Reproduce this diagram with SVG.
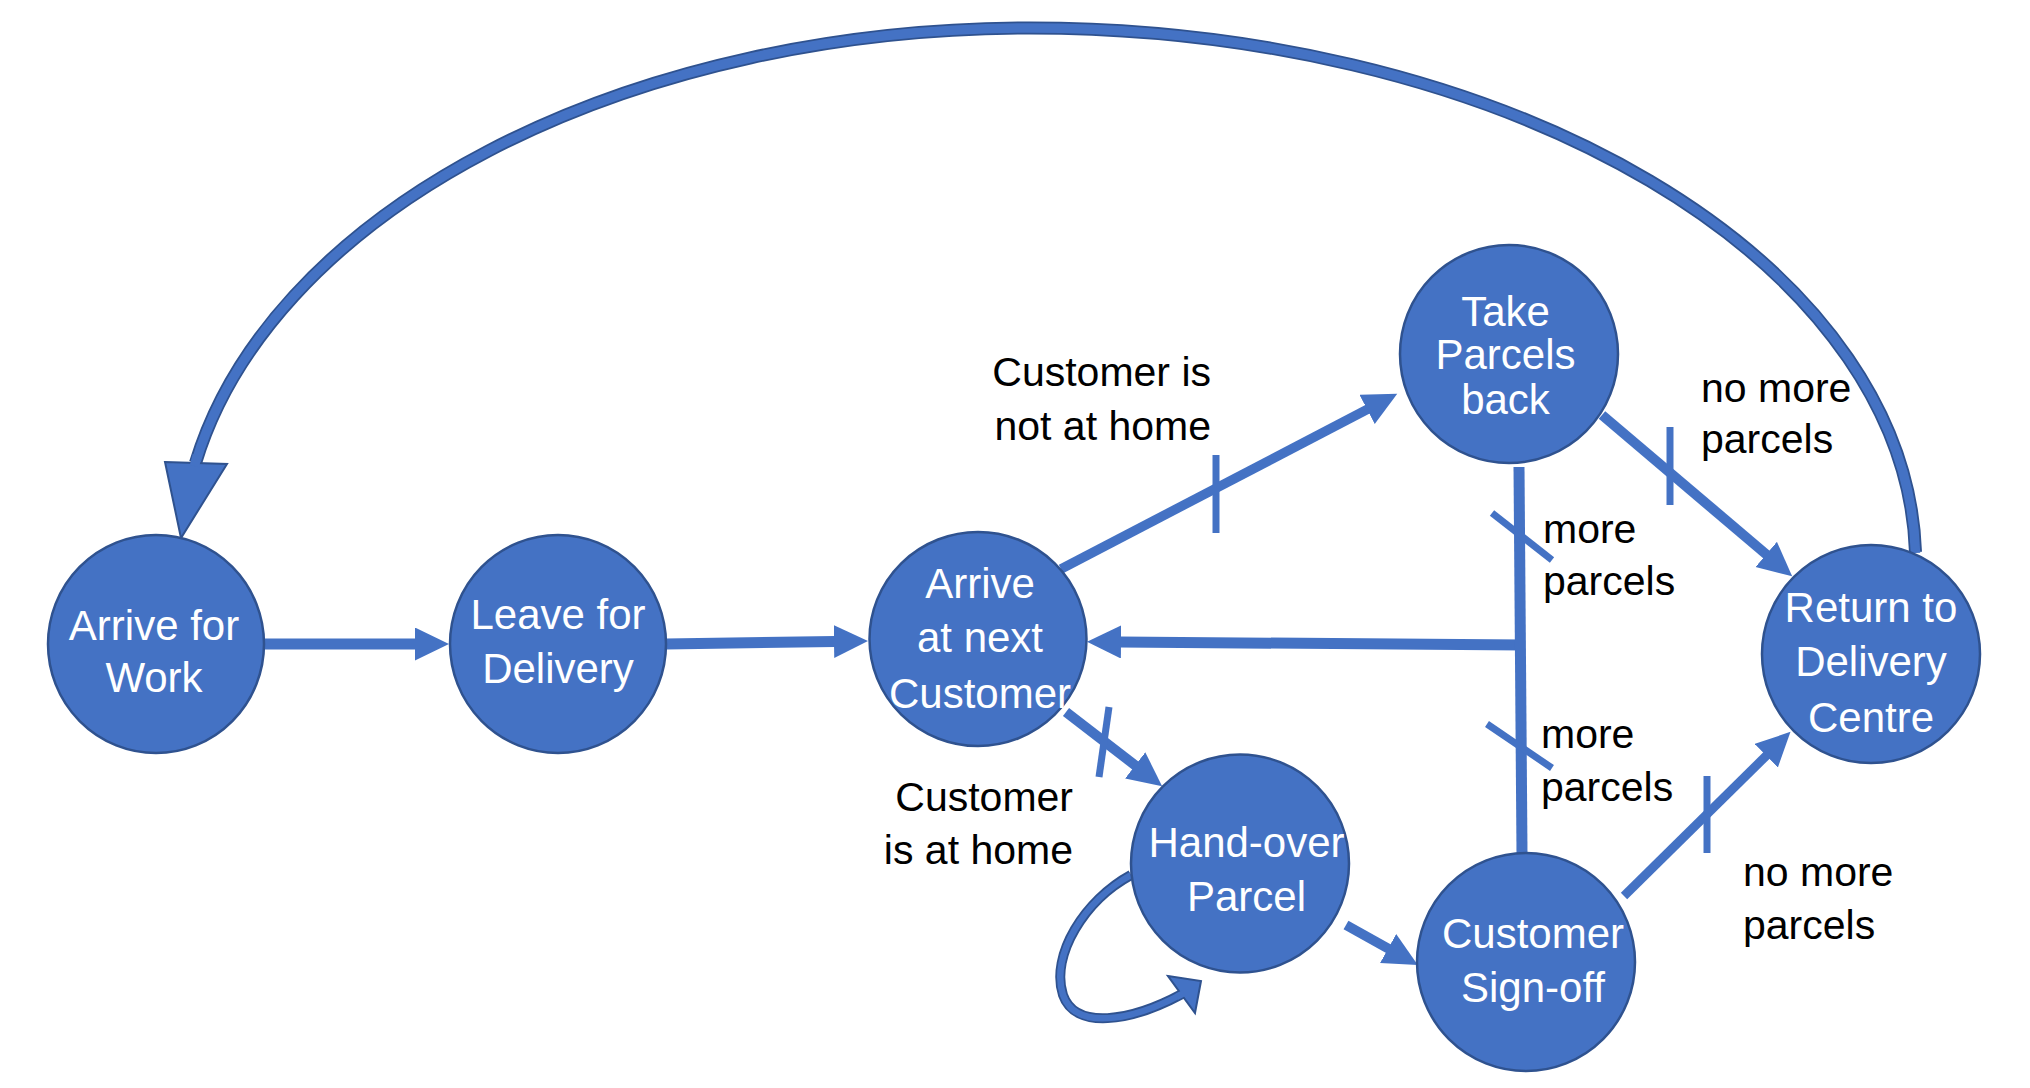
<svg xmlns="http://www.w3.org/2000/svg" width="2030" height="1088" viewBox="0 0 2030 1088">
<style>
.node{fill:#4472C4;stroke:#2F528F;stroke-width:2.5}
.nt{font-family:"Liberation Sans",Arial,sans-serif;font-size:42px;fill:#ffffff;text-anchor:middle}
.lb{font-family:"Liberation Sans",Arial,sans-serif;font-size:41px;fill:#000000}
.ln{stroke:#4472C4;fill:none;stroke-linecap:butt}
.tick{stroke:#4472C4;stroke-width:7;fill:none}
.bandO{fill:none;stroke:#2F528F}
.bandI{fill:none;stroke:#4472C4}
.head{fill:#4472C4;stroke:#2F528F;stroke-width:2;stroke-linejoin:miter}
</style>
<defs>
<marker id="arrow" markerUnits="userSpaceOnUse" markerWidth="36" markerHeight="34" refX="1" refY="16.5" orient="auto">
<path d="M0,0 L34,16.5 L0,33 Z" fill="#4472C4"/>
</marker>
</defs>
<rect width="2030" height="1088" fill="#ffffff"/>
<g id="connectors">
<line class="ln" x1="262" y1="644" x2="416" y2="644" stroke-width="11" marker-end="url(#arrow)"/>
<line class="ln" x1="666" y1="644" x2="835" y2="641.5" stroke-width="11" marker-end="url(#arrow)"/>
<line class="ln" x1="1061" y1="569" x2="1368" y2="409" stroke-width="9.5" marker-end="url(#arrow)"/>
<line class="ln" x1="1602" y1="415" x2="1767" y2="555" stroke-width="10" marker-end="url(#arrow)"/>
<line class="ln" x1="1524" y1="645" x2="1120" y2="642" stroke-width="11" marker-end="url(#arrow)"/>
<line class="ln" x1="1519" y1="467" x2="1522" y2="853" stroke-width="11"/>
<line class="ln" x1="1066" y1="712" x2="1136" y2="766" stroke-width="10" marker-end="url(#arrow)"/>
<line class="ln" x1="1346" y1="925" x2="1389" y2="949" stroke-width="10" marker-end="url(#arrow)"/>
<line class="ln" x1="1624" y1="896" x2="1767" y2="755" stroke-width="9" marker-end="url(#arrow)"/>
<line class="tick" x1="1216" y1="455" x2="1216" y2="533"/>
<line class="tick" x1="1670" y1="427" x2="1670" y2="505"/>
<line class="tick" x1="1492" y1="513" x2="1552" y2="560"/>
<line class="tick" x1="1487" y1="724" x2="1552" y2="768"/>
<line class="tick" x1="1707" y1="776" x2="1707" y2="853"/>
<line class="tick" x1="1109" y1="707" x2="1099" y2="777"/>
<path class="bandO" stroke-width="13" d="M1915.5 552 A886 535 0 0 0 1030 28 A850 535 0 0 0 195.5 463"/>
<path class="bandI" stroke-width="9.5" d="M1915.5 553 A886 535 0 0 0 1030 28 A850 535 0 0 0 195.5 463"/>
<polygon class="head" points="165,462 227,464 181,538"/>
<line class="bandI" stroke-width="9.5" x1="197.3" y1="455.3" x2="194.4" y2="466"/>
<path class="bandO" stroke-width="10" d="M1131 875 C1085 900 1050 955 1063 995 C1075 1030 1130 1022 1182 994"/>
<path class="bandI" stroke-width="6.5" d="M1131 875 C1085 900 1050 955 1063 995 C1075 1030 1130 1022 1182 994"/>
<polygon class="head" points="1168,976 1201,981 1195,1013"/>
<line class="bandI" stroke-width="6.5" x1="1176.7" y1="996.8" x2="1184" y2="993"/>
</g>
<g id="node-arrive-work">
<ellipse class="node" cx="156" cy="644" rx="108" ry="109"/>
<text class="nt" x="154" y="640">Arrive for</text>
<text class="nt" x="154" y="692">Work</text>
</g>
<g id="node-leave-delivery">
<ellipse class="node" cx="558" cy="644" rx="108" ry="109"/>
<text class="nt" x="558" y="629">Leave for</text>
<text class="nt" x="558" y="683">Delivery</text>
</g>
<g id="node-arrive-customer">
<ellipse class="node" cx="978" cy="639" rx="108.5" ry="107"/>
<text class="nt" x="980" y="598">Arrive</text>
<text class="nt" x="980" y="652">at next</text>
<text class="nt" x="980" y="708">Customer</text>
</g>
<g id="node-take-back">
<ellipse class="node" cx="1509" cy="354" rx="109" ry="109"/>
<text class="nt" x="1505.5" y="326">Take</text>
<text class="nt" x="1505.5" y="369">Parcels</text>
<text class="nt" x="1505.5" y="414">back</text>
</g>
<g id="node-hand-over">
<ellipse class="node" cx="1240" cy="863.5" rx="109" ry="109"/>
<text class="nt" x="1246.5" y="857">Hand-over</text>
<text class="nt" x="1246.5" y="911">Parcel</text>
</g>
<g id="node-sign-off">
<ellipse class="node" cx="1526" cy="962" rx="109" ry="109"/>
<text class="nt" x="1533" y="948">Customer</text>
<text class="nt" x="1533" y="1002">Sign-off</text>
</g>
<g id="node-return">
<ellipse class="node" cx="1871" cy="654" rx="109" ry="109"/>
<text class="nt" x="1871" y="622">Return to</text>
<text class="nt" x="1871" y="676">Delivery</text>
<text class="nt" x="1871" y="732">Centre</text>
</g>
<g id="edge-labels">
<text class="lb" x="1211" y="386" text-anchor="end">Customer is</text>
<text class="lb" x="1211" y="440" text-anchor="end">not at home</text>
<text class="lb" x="1073" y="811" text-anchor="end">Customer</text>
<text class="lb" x="1073" y="864" text-anchor="end">is at home</text>
<text class="lb" x="1701" y="402">no more</text>
<text class="lb" x="1701" y="453">parcels</text>
<text class="lb" x="1543" y="543">more</text>
<text class="lb" x="1543" y="595">parcels</text>
<text class="lb" x="1541" y="748">more</text>
<text class="lb" x="1541" y="801">parcels</text>
<text class="lb" x="1743" y="886">no more</text>
<text class="lb" x="1743" y="939">parcels</text>
</g>
</svg>
